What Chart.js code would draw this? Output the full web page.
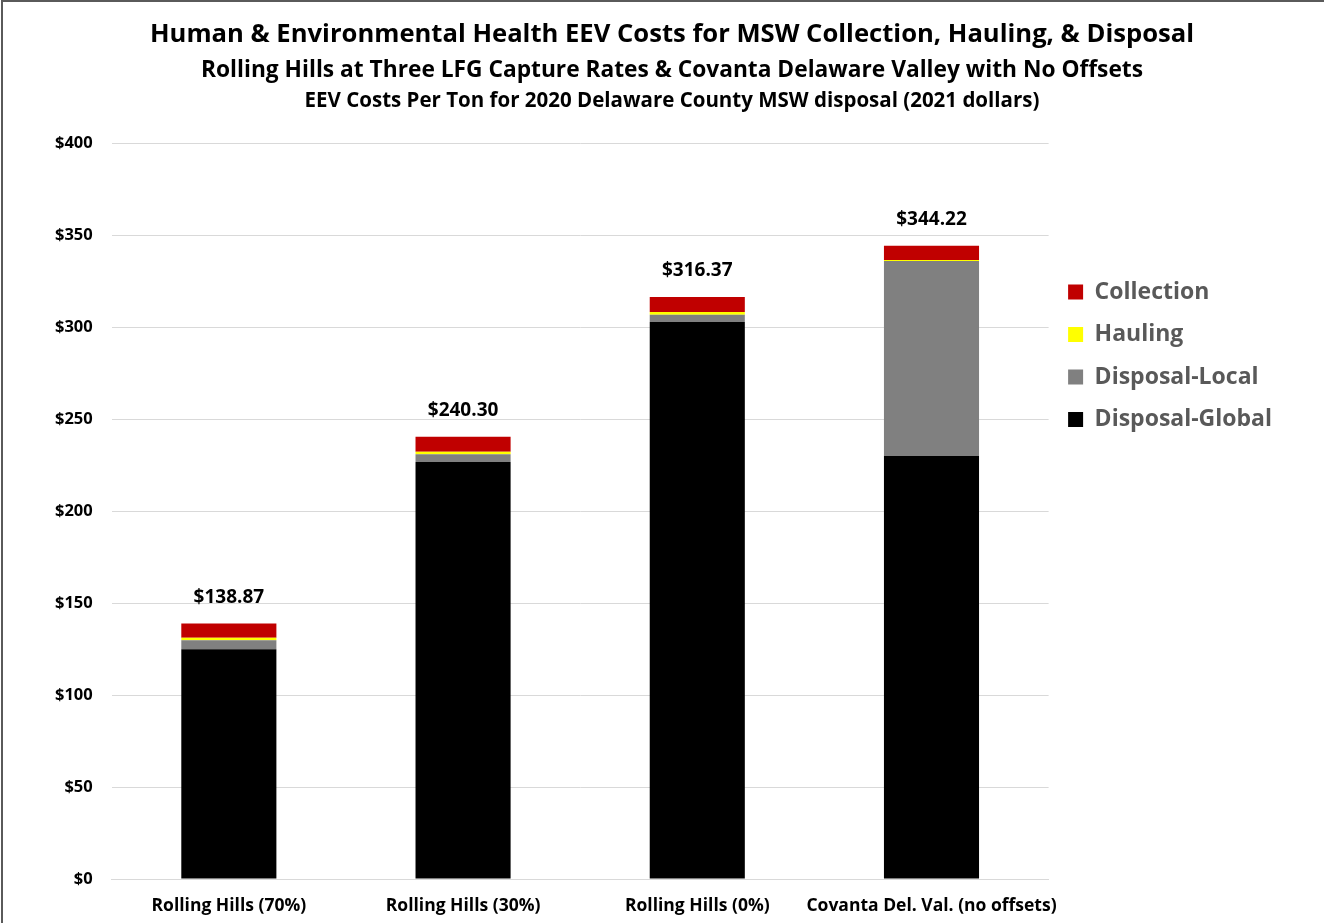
<!DOCTYPE html>
<html>
<head>
<meta charset="utf-8">
<script src="https://cdn.jsdelivr.net/npm/chart.js@4.4.0/dist/chart.umd.min.js"></script>
<style>
  html, body { margin: 0; padding: 0; background: #fff; }
  #wrap { position: absolute; left: 0; top: 0; width: 1324px; height: 923px; }
  #frame { position: absolute; left: 1px; top: 0; width: 1330px; height: 930px; border-left: 2px solid #5a5a5a; border-top: 2px solid #5a5a5a; box-sizing: border-box; pointer-events: none; }
  canvas { display: block; }
</style>
</head>
<body>
<div id="wrap"><canvas id="c" width="1324" height="923"></canvas><div id="frame"></div></div>
<script>
const titleLines = [
  "Human & Environmental Health EEV Costs for MSW Collection, Hauling, & Disposal",
  "Rolling Hills at Three LFG Capture Rates & Covanta Delaware Valley with No Offsets",
  "EEV Costs Per Ton for 2020 Delaware County MSW disposal (2021 dollars)"
];
const categories = ["Rolling Hills (70%)", "Rolling Hills (30%)", "Rolling Hills (0%)", "Covanta Del. Val. (no offsets)"];
const disposalGlobal = [124.9, 226.6, 302.7, 229.9];
const disposalLocal  = [4.9, 4.2, 4.0, 106.0];
const hauling        = [1.3, 1.4, 1.5, 0.5];
const collection     = [7.77, 8.1, 8.17, 7.82];
const totals         = [138.87, 240.30, 316.37, 344.22];
const yTicks = [0, 50, 100, 150, 200, 250, 300, 350, 400];

const FONT = "'Open Sans', 'Noto Sans', sans-serif";

const titlePlugin = {
  id: 'titles',
  afterDraw(chart) {
    const ctx = chart.ctx;
    const specs = [
      { text: titleLines[0], y: 34.5, width: 1044, size: 24 },
      { text: titleLines[1], y: 70.5, width: 942, size: 20 },
      { text: titleLines[2], y: 101.5, width: 735, size: 17 }
    ];
    ctx.save();
    ctx.fillStyle = '#000';
    ctx.textAlign = 'center';
    ctx.textBaseline = 'middle';
    specs.forEach(s => {
      ctx.font = 'bold ' + s.size + 'px ' + FONT;
      const w = ctx.measureText(s.text).width;
      const sz = s.size * s.width / w;
      ctx.font = 'bold ' + sz.toFixed(2) + 'px ' + FONT;
      ctx.fillText(s.text, 672, s.y);
    });
    ctx.restore();
  }
};

const totalsPlugin = {
  id: 'totals',
  afterDatasetsDraw(chart) {
    const ctx = chart.ctx;
    const y = chart.scales.y;
    const meta = chart.getDatasetMeta(0);
    ctx.save();
    ctx.fillStyle = '#000';
    ctx.textAlign = 'center';
    ctx.textBaseline = 'middle';
    ctx.font = 'bold 19px ' + FONT;
    totals.forEach((t, i) => {
      const x = meta.data[i].x;
      const py = y.getPixelForValue(t) - 26;
      ctx.fillText('$' + t.toFixed(2), x, py);
    });
    ctx.restore();
  }
};

new Chart(document.getElementById('c'), {
  type: 'bar',
  data: {
    labels: categories,
    datasets: [
      { label: 'Disposal-Global', data: disposalGlobal, backgroundColor: '#000000' },
      { label: 'Disposal-Local', data: disposalLocal, backgroundColor: '#808080' },
      { label: 'Hauling', data: hauling, backgroundColor: '#FFFF00' },
      { label: 'Collection', data: collection, backgroundColor: '#C00000' }
    ]
  },
  options: {
    responsive: false,
    animation: false,
    layout: { padding: { top: 143, left: 36, right: 42, bottom: -11 } },
    datasets: { bar: { categoryPercentage: 1.0, barPercentage: 0.406, borderWidth: 0 } },
    scales: {
      x: {
        stacked: true,
        grid: { display: false, drawTicks: false },
        border: { display: true, color: '#d9d9d9', width: 1 },
        ticks: {
          color: '#000', font: { family: FONT, size: 17.5, weight: 'bold' }, padding: 17,
          maxRotation: 0, minRotation: 0, autoSkip: false
        }
      },
      y: {
        stacked: true,
        min: 0, max: 400,
        afterBuildTicks(axis) { axis.ticks = yTicks.map(v => ({ value: v })); },
        grid: { color: '#d9d9d9', drawTicks: false },
        border: { display: false },
        ticks: {
          color: '#000', padding: 19,
          font: { family: FONT, size: 16.5, weight: 'bold' },
          callback: v => '$' + v
        }
      }
    },
    plugins: {
      title: { display: false },
      tooltip: { enabled: false },
      legend: {
        position: 'right',
        align: 'start',
        reverse: true,
        title: { display: true, text: ' ', font: { size: 10 }, padding: { top: 0, bottom: 106 } },
        labels: {
          color: '#595959',
          font: { family: FONT, size: 23, weight: 'bold' },
          boxWidth: 15, boxHeight: 15, padding: 19.5
        }
      }
    }
  },
  plugins: [titlePlugin, totalsPlugin]
});
</script>
</body>
</html>
